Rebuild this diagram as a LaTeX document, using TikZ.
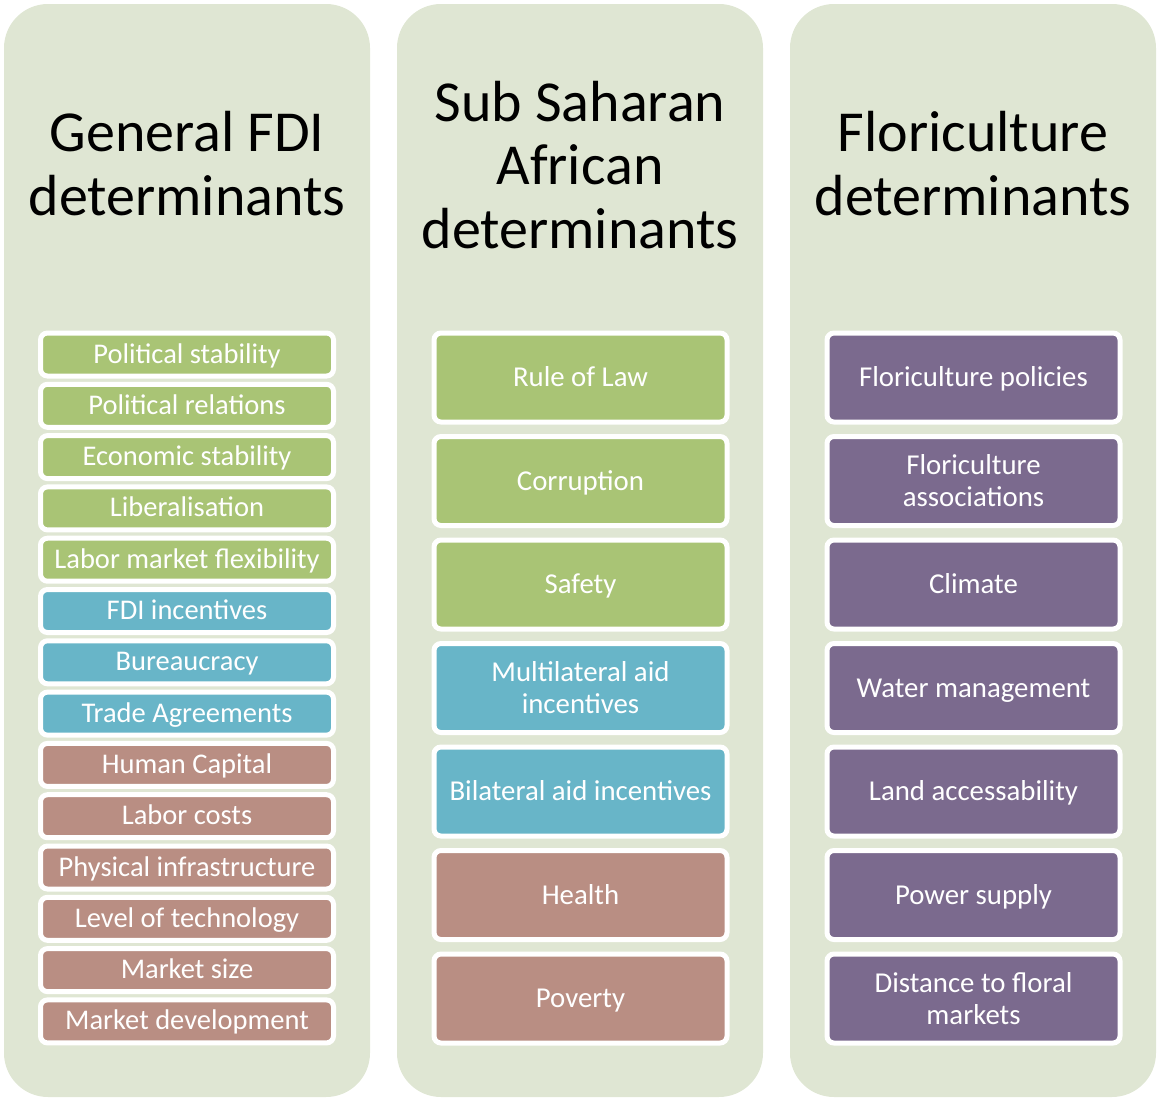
\documentclass[tikz,border=0pt]{standalone}
\usepackage{fontspec}
\setmainfont{Carlito}
\definecolor{panelbg}{RGB}{223,230,211}
\definecolor{boxgreen}{RGB}{169,196,117}
\definecolor{boxblue}{RGB}{104,181,200}
\definecolor{boxbrown}{RGB}{185,142,131}
\definecolor{boxpurple}{RGB}{123,106,142}
\tikzset{
  panel/.style={fill=panelbg, rounded corners=44pt},
  heading/.style={font=\fontsize{58}{63.4}\selectfont, align=center, inner sep=0pt, anchor=base},
  itembox/.style={draw=white, line width=5pt, rounded corners=7pt, text=white,
    align=center, inner sep=0pt, minimum width=293pt},
  smallitem/.style={itembox, minimum height=43pt, font=\fontsize{28.5}{32}\selectfont,
    text height=22pt, text depth=5pt},
  bigitem/.style={itembox, minimum height=89pt, font=\fontsize{28.8}{32}\selectfont},
  oneline/.style={text height=23.4pt, text depth=5pt},
  twolines/.style={},
}
\begin{document}
\begin{tikzpicture}[x=1pt,y=-1pt]
\useasboundingbox (0,0) rectangle (1157,1100);

% three column panels
\fill[panel] (4,4) rectangle (370,1097);
\fill[panel] (397,4) rectangle (763,1097);
\fill[panel] (790,4) rectangle (1156,1097);

% headings (anchored at the baseline of their last line)
\node[heading] (h1) at (187,215) {General FDI\\determinants};
\node[heading] (h2) at (580,248) {Sub Saharan\\African\\determinants};
\node[heading] (h3) at (973,215) {Floriculture\\determinants};

% general FDI determinants
\foreach \t/\c [count=\i from 0] in {
  Political stability/boxgreen, Political relations/boxgreen,
  Economic stability/boxgreen, Liberalisation/boxgreen,
  Labor market flexibility/boxgreen, FDI incentives/boxblue,
  Bureaucracy/boxblue, Trade Agreements/boxblue,
  Human Capital/boxbrown, Labor costs/boxbrown,
  Physical infrastructure/boxbrown, Level of technology/boxbrown,
  Market size/boxbrown, Market development/boxbrown}
  \node[smallitem, fill=\c] (g\i) at (187, 354.5+51.3*\i) {\t};

% Sub Saharan African determinants
\foreach \t/\c/\s [count=\i from 0] in {
  Rule of Law/boxgreen/oneline, Corruption/boxgreen/oneline,
  Safety/boxgreen/oneline,
  {Multilateral aid\\incentives}/boxblue/twolines,
  Bilateral aid incentives/boxblue/oneline,
  Health/boxbrown/oneline, Poverty/boxbrown/oneline}
  \node[bigitem, \s, fill=\c] (s\i) at (580.5, 377.5+103.5*\i) {\t};

% floriculture determinants
\foreach \t/\s [count=\i from 0] in {
  Floriculture policies/oneline, {Floriculture\\associations}/twolines,
  Climate/oneline, Water management/oneline,
  Land accessability/oneline, Power supply/oneline,
  {Distance to floral\\markets}/twolines}
  \node[bigitem, \s, fill=boxpurple] (f\i) at (973.5, 377.5+103.5*\i) {\t};
\end{tikzpicture}
\end{document}
